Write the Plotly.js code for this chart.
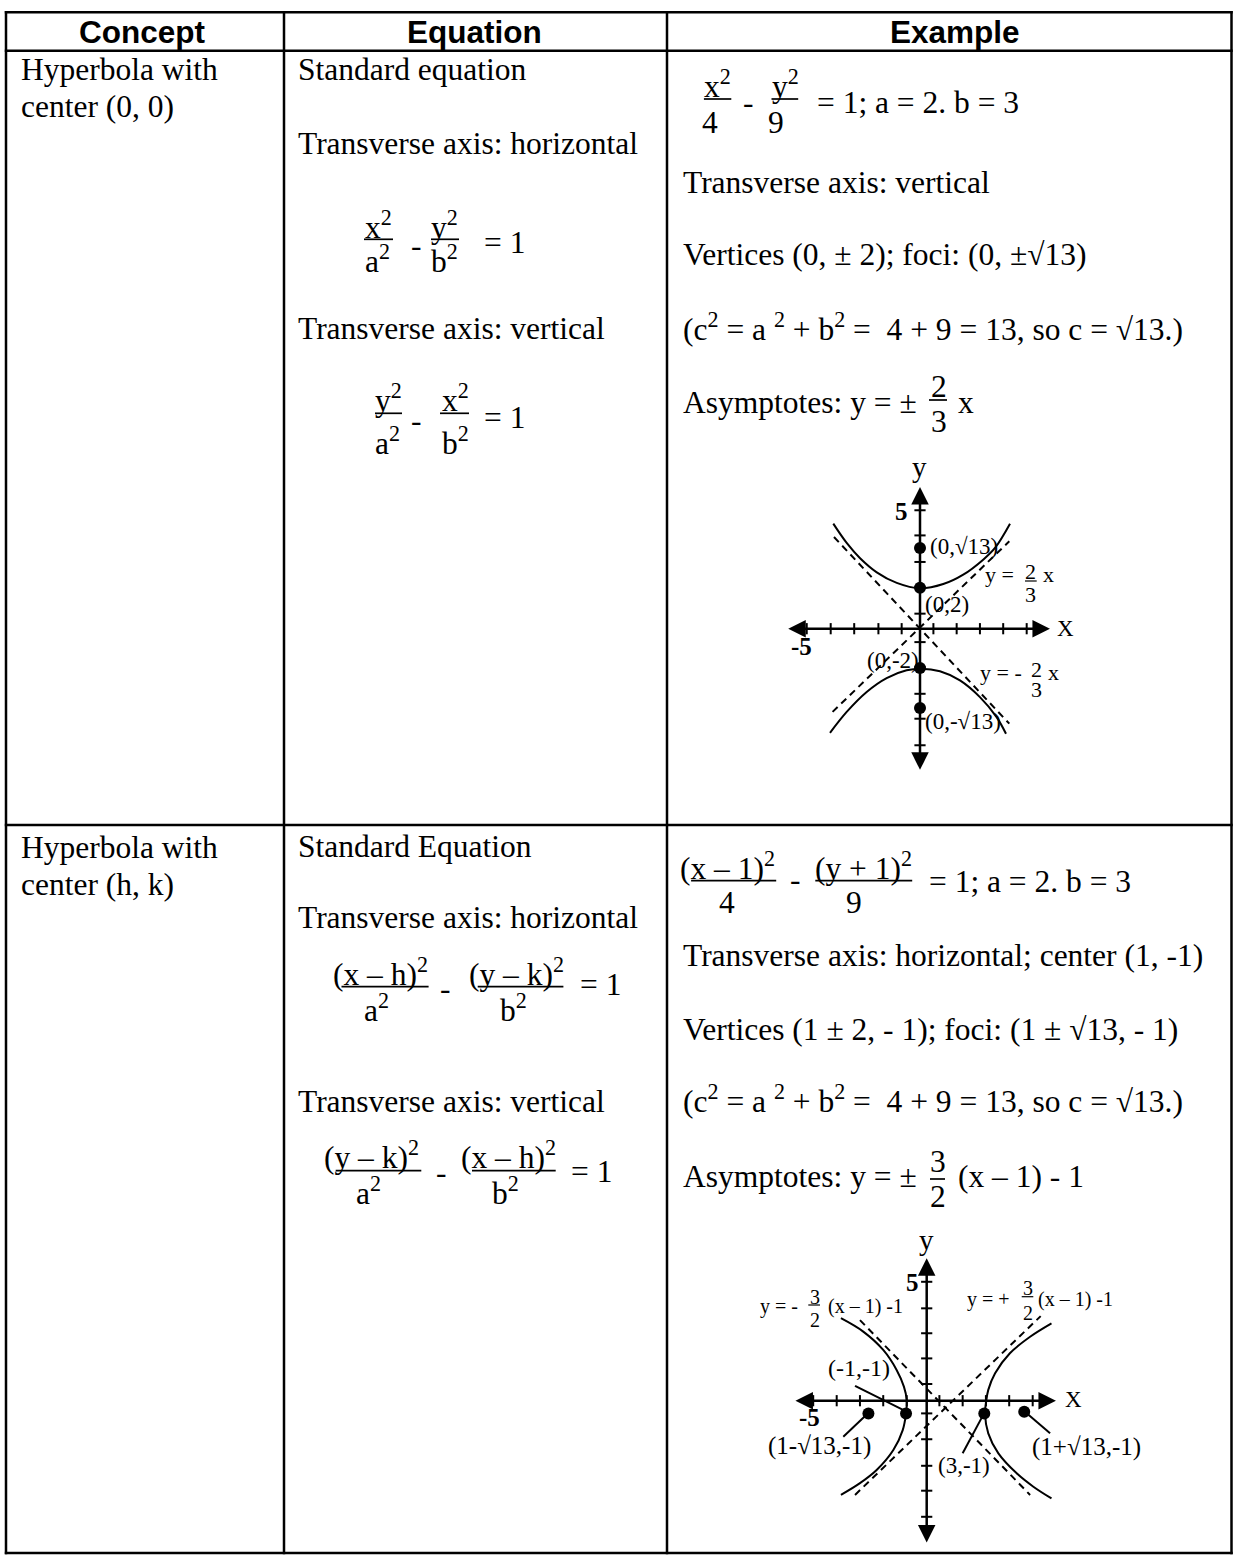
<!DOCTYPE html>
<html>
<head>
<meta charset="utf-8">
<script src="https://cdn.plot.ly/plotly-3.0.1.min.js"></script>
<style>
  html, body { margin: 0; padding: 0; background: #fff; }
  #chart { width: 1233px; height: 1556px; }
</style>
</head>
<body>
<div id="chart"></div>
<script>
// ============ DATA (in graph units) ============
// graph 1: hyperbola with center (0, 0)
const G1_UPPER_X = [-3.69, -3.12, -2.55, -1.84, -0.99, 0, 0.99, 1.84, 2.70, 3.20, 3.83];
const G1_UPPER_Y = [4.47, 3.65, 3.00, 2.40, 1.95, 1.72, 1.90, 2.30, 2.95, 3.45, 4.47];
const G1_LOWER_X = [-3.83, -3.12, -2.27, -1.42, -0.57, 0.04, 0.85, 1.70, 2.55, 3.26, 3.66];
const G1_LOWER_Y = [-4.43, -3.54, -2.69, -2.10, -1.77, -1.70, -1.81, -2.20, -2.91, -3.76, -4.47];
const G1_ASYM_A_X = [-3.66, 3.80], G1_ASYM_A_Y = [3.90, -4.04];
const G1_ASYM_B_X = [-3.72, 3.80], G1_ASYM_B_Y = [-3.54, 3.72];
const G1_DOT_X = [0, 0, 0, 0];
const G1_DOT_Y = [3.43, 1.74, -1.67, -3.37];
const G1_XTICKS = [-4.82, -3.80, -2.80, -1.77, -0.78, 0.57, 1.56, 2.55, 3.54, 4.54];
const G1_YTICKS = [5.04, 3.97, 2.84, 1.77, 0.64, -0.57, -1.63, -2.77, -3.83, -4.96];
const G1_AXIS_X = [-5.67, 5.53];
const G1_AXIS_Y = [-6.07, 6.03];

// graph 2: hyperbola with center (h, k)
const G2_LEFT_X = [-3.65, -2.70, -1.85, -1.28, -0.97, -0.85, -0.88, -1.02, -1.42, -2.13, -2.84, -3.65];
const G2_LEFT_Y = [3.51, 2.94, 2.16, 1.31, 0.60, 0.03, -0.54, -1.25, -2.10, -2.95, -3.51, -4.01];
const G2_RIGHT_X = [5.31, 4.40, 3.54, 2.91, 2.62, 2.52, 2.48, 2.62, 3.05, 3.83, 4.54, 5.31];
const G2_RIGHT_Y = [3.29, 2.72, 2.02, 1.17, 0.46, -0.11, -0.54, -1.39, -2.24, -3.09, -3.66, -4.16];
const G2_ASYM_A_X = [-2.84, 4.40], G2_ASYM_A_Y = [3.43, -4.01];
const G2_ASYM_B_X = [-3.05, 4.85], G2_ASYM_B_Y = [-4.01, 3.60];
const G2_DOT_X = [-2.48, -0.88, 2.45, 4.15];
const G2_DOT_Y = [-0.54, -0.54, -0.54, -0.47];
const G2_LEAD_X = [-3.05, -0.92, null, -3.55, -2.53, null, 1.53, 2.44, null, 4.18, 5.25];
const G2_LEAD_Y = [0.63, -0.43, null, -1.53, -0.57, null, -2.24, -0.54, null, -0.47, -1.39];
const G2_XTICKS = [-4.83, -3.83, -2.84, -1.85, -0.85, 0.54, 1.53, 2.52, 3.51, 4.51];
const G2_YTICKS = [5.06, 3.93, 2.87, 1.80, 0.71, -0.54, -1.64, -2.77, -3.83, -4.94];
const G2_AXIS_X = [-5.65, 5.50];
const G2_AXIS_Y = [-6.10, 6.06];

const HEADERS = ['Concept', 'Equation', 'Example'];
const CONCEPT_1 = ['Hyperbola with', 'center (0, 0)'];
const CONCEPT_2 = ['Hyperbola with', 'center (h, k)'];

// ============ PAGE GEOMETRY ============
const W = 1233, H = 1556;
const UNIT = 23.5;               // px per graph unit
const SERIF = '"Liberation Serif", "Times New Roman", serif';
const SANS = '"Liberation Sans", Arial, sans-serif';
const BODY = 31.5;

const ann = [];
const shapes = [];

// text placed by its baseline (px from the top-left of the page)
function put(text, x, base, size, o){
  o = o || {};
  const k = (o.sans ? 0.3465 : 0.3375) + (text.indexOf('<sup>') >= 0 ? 0.08 : 0);
  ann.push({
    xref: 'paper', yref: 'paper', x: x / W, y: 1 - (base - k * size) / H,
    xanchor: o.anchor || 'left', yanchor: 'middle',
    text: text, showarrow: false, borderpad: 0, borderwidth: 0,
    font: { family: o.sans ? SANS : SERIF, size: size, color: '#000' }
  });
}
function rule(x0, y0, x1, y1, w){
  shapes.push({ type: 'line', xref: 'paper', yref: 'paper',
    x0: x0 / W, x1: x1 / W, y0: 1 - y0 / H, y1: 1 - y1 / H,
    line: { color: '#000', width: w } });
}

// ============ TABLE ============
const COLS = [6, 284, 667, 1231.5];
const ROWS = [12.3, 50.7, 825, 1553];
ROWS.forEach(y => rule(COLS[0] - 1.2, y, COLS[3] + 1.2, y, 2.5));
COLS.forEach(x => rule(x, ROWS[0] - 1.2, x, ROWS[3] + 1.2, 2.5));

put('<b>' + HEADERS[0] + '</b>', 142.5, 43.3, BODY, {sans: true, anchor: 'center'});
put('<b>' + HEADERS[1] + '</b>', 474.8, 43.3, BODY, {sans: true, anchor: 'center'});
put('<b>' + HEADERS[2] + '</b>', 955, 43.3, BODY, {sans: true, anchor: 'center'});

put(CONCEPT_1[0], 20.7, 80, BODY);
put(CONCEPT_1[1], 20.7, 117.3, BODY);
put(CONCEPT_2[0], 20.7, 858, BODY);
put(CONCEPT_2[1], 20.7, 895, BODY);

// equation column, row 1
put('Standard equation', 297.7, 80, BODY);
put('Transverse axis: horizontal', 297.7, 154, BODY);
put('x<sup>2</sup>', 365, 238, BODY);
rule(364, 239.3, 393, 239.3, 1.7);
put('a<sup>2</sup>', 365, 272.5, BODY);
put('-', 411, 256, BODY);
put('y<sup>2</sup>', 431, 238, BODY);
rule(431, 239.3, 459, 239.3, 1.7);
put('b<sup>2</sup>', 431, 272.5, BODY);
put('= 1', 484, 253.3, BODY);
put('Transverse axis: vertical', 297.7, 339.3, BODY);
put('y<sup>2</sup>', 375, 411, BODY);
rule(375, 413.3, 402, 413.3, 1.7);
put('a<sup>2</sup>', 375, 454, BODY);
put('-', 411, 431, BODY);
put('x<sup>2</sup>', 442, 411, BODY);
rule(440, 413.3, 469, 413.3, 1.7);
put('b<sup>2</sup>', 442, 454, BODY);
put('= 1', 484, 428, BODY);

// equation column, row 2
put('Standard Equation', 298, 856.7, BODY);
put('Transverse axis: horizontal', 298, 928.3, BODY);
put('(x – h)<sup>2</sup>', 332.6, 985, BODY);
rule(341.5, 986.7, 428.6, 986.7, 1.7);
put('a<sup>2</sup>', 363.8, 1021, BODY);
put('-', 440, 999.6, BODY);
put('(y – k)<sup>2</sup>', 468.8, 985, BODY);
rule(477.7, 986.7, 563.4, 986.7, 1.7);
put('b<sup>2</sup>', 500, 1021, BODY);
put('= 1', 580, 995, BODY);
put('Transverse axis: vertical', 298, 1111.7, BODY);
put('(y – k)<sup>2</sup>', 324, 1168, BODY);
rule(335.7, 1170.7, 421.3, 1170.7, 1.7);
put('a<sup>2</sup>', 355.7, 1204, BODY);
put('-', 436, 1183, BODY);
put('(x – h)<sup>2</sup>', 460.7, 1168, BODY);
rule(472, 1170.7, 555.7, 1170.7, 1.7);
put('b<sup>2</sup>', 492.3, 1204, BODY);
put('= 1', 570.7, 1181.7, BODY);

// example column, row 1
put('x<sup>2</sup>', 703.9, 97, BODY);
rule(703.9, 99, 731.3, 99, 1.7);
put('4', 702, 133, BODY);
put('-', 742.5, 113, BODY);
put('y<sup>2</sup>', 771.5, 97, BODY);
rule(771.5, 99, 798.2, 99, 1.7);
put('9', 767.8, 133, BODY);
put('= 1; a = 2. b = 3', 817.2, 113, BODY);
put('Transverse axis: vertical', 682.7, 192.7, BODY);
put('Vertices (0, ± 2); foci: (0, ±√13)', 682.7, 265, BODY);
put('(c<sup>2</sup> = a <sup>2</sup> + b<sup>2</sup> =  4 + 9 = 13, so c = √13.)', 682.7, 340, BODY);
put('Asymptotes: y = ±', 682.7, 413.3, BODY);
put('2', 931, 396.7, BODY);
rule(929, 400, 947, 400, 1.7);
put('3', 931, 431.7, BODY);
put('x', 957.9, 413.3, BODY);

// example column, row 2
put('(x – 1)<sup>2</sup>', 680.1, 879, BODY);
rule(691.1, 880.7, 776.2, 880.7, 1.7);
put('4', 718.5, 913, BODY);
put('-', 790, 890.6, BODY);
put('(y + 1)<sup>2</sup>', 815.3, 879, BODY);
rule(815.3, 880.7, 912.2, 880.7, 1.7);
put('9', 846.4, 913, BODY);
put('= 1; a = 2. b = 3', 928.6, 891.7, BODY);
put('Transverse axis: horizontal; center (1, -1)', 682.7, 965.7, BODY);
put('Vertices (1 ± 2, - 1); foci: (1 ± √13, - 1)', 682.7, 1040, BODY);
put('(c<sup>2</sup> = a <sup>2</sup> + b<sup>2</sup> =  4 + 9 = 13, so c = √13.)', 682.7, 1111.7, BODY);
put('Asymptotes: y = ±', 682.7, 1186.7, BODY);
put('3', 930, 1171.7, BODY);
rule(930, 1179, 945, 1179, 1.7);
put('2', 930, 1206.7, BODY);
put('(x – 1) - 1', 958.3, 1186.7, BODY);

// ============ GRAPH LABELS ============
put('y', 919.3, 477, 29, {anchor: 'center'});
put('<b>5</b>', 901.3, 519.5, 25, {anchor: 'center'});
put('<b>-5</b>', 801.7, 654.5, 25, {anchor: 'center'});
put('X', 1065, 636, 23, {anchor: 'center'});
put('(0,√13)', 930, 554, 23);
put('y =', 985, 582.3, 22);
put('2', 1030.7, 579, 22, {anchor: 'center'});
rule(1025, 581, 1036.7, 581, 1.2);
put('3', 1030.7, 602, 22, {anchor: 'center'});
put('x', 1043, 582.3, 22);
put('(0,2)', 925, 612, 23);
put('(0,-2)', 866.7, 668, 23);
put('y = -', 980, 680.3, 22);
put('2', 1036, 677, 22, {anchor: 'center'});
put('3', 1036, 697, 22, {anchor: 'center'});
put('x', 1048, 680.3, 22);
put('(0,-√13)', 925, 729, 23);

put('y', 926.7, 1250, 29, {anchor: 'center'});
put('<b>5</b>', 912.5, 1290.5, 25, {anchor: 'center'});
put('<b>-5</b>', 809, 1426, 25, {anchor: 'center'});
put('X', 1073.3, 1407.5, 23, {anchor: 'center'});
put('y = -', 760, 1313.3, 20);
put('3', 815, 1303.3, 20, {anchor: 'center'});
rule(808.3, 1305, 820, 1305, 1.2);
put('2', 815, 1326.7, 20, {anchor: 'center'});
put('(x – 1) -1', 828.3, 1313.3, 20);
put('y = +', 966.7, 1306.7, 20);
put('3', 1028, 1295, 20, {anchor: 'center'});
rule(1021.7, 1296.7, 1033.3, 1296.7, 1.2);
put('2', 1028, 1320, 20, {anchor: 'center'});
put('(x – 1) -1', 1038.3, 1306.7, 20);
put('(-1,-1)', 828.3, 1376, 24);
put('(1-√13,-1)', 768.3, 1454, 25);
put('(3,-1)', 938.3, 1473, 23);
put('(1+√13,-1)', 1031.7, 1455.8, 25);

// ============ GRAPHS ============
const XR = [-6, 6], YR = [-6.5, 6.5];
function domains(ox, oy){
  return {
    x: [(ox + XR[0] * UNIT) / W, (ox + XR[1] * UNIT) / W],
    y: [1 - (oy - YR[0] * UNIT) / H, 1 - (oy - YR[1] * UNIT) / H]
  };
}
const D1 = domains(920, 628.7);
const D2 = domains(926.7, 1400.7);

function axisArrows(ax, ay, xa, ya){
  const base = { xref: xa, yref: ya, axref: xa, ayref: ya, text: '', showarrow: true,
    arrowside: 'end+start', arrowhead: 2, startarrowhead: 2,
    arrowsize: 1.4, startarrowsize: 1.4, arrowwidth: 2.5, arrowcolor: '#000', standoff: 0, startstandoff: 0 };
  ann.push(Object.assign({}, base, { x: ax[1], y: 0, ax: ax[0], ay: 0 }));
  ann.push(Object.assign({}, base, { x: 0, y: ay[1], ax: 0, ay: ay[0] }));
}
axisArrows(G1_AXIS_X, G1_AXIS_Y, 'x', 'y');
axisArrows(G2_AXIS_X, G2_AXIS_Y, 'x2', 'y2');

const CURVE = { color: '#000', width: 2, shape: 'spline' };
const DASH = { color: '#000', width: 2, dash: '7px,5px' };
function line(x, y, style, xa, ya){
  return { x: x, y: y, xaxis: xa, yaxis: ya, type: 'scatter', mode: 'lines', line: style, hoverinfo: 'skip' };
}
function ticks(x, y, sym, xa, ya){
  return { x: x, y: y, xaxis: xa, yaxis: ya, type: 'scatter', mode: 'markers', hoverinfo: 'skip', cliponaxis: false,
    marker: { symbol: sym, size: 8, color: '#000', line: { color: '#000', width: 2 } } };
}
function dots(x, y, xa, ya){
  return { x: x, y: y, xaxis: xa, yaxis: ya, type: 'scatter', mode: 'markers', hoverinfo: 'skip', cliponaxis: false,
    marker: { symbol: 'circle', size: 12, color: '#000' } };
}

const traces = [
  line(G1_UPPER_X, G1_UPPER_Y, CURVE, 'x', 'y'),
  line(G1_LOWER_X, G1_LOWER_Y, CURVE, 'x', 'y'),
  line(G1_ASYM_A_X, G1_ASYM_A_Y, DASH, 'x', 'y'),
  line(G1_ASYM_B_X, G1_ASYM_B_Y, DASH, 'x', 'y'),
  ticks(G1_XTICKS, G1_XTICKS.map(() => 0), 'line-ns-open', 'x', 'y'),
  ticks(G1_YTICKS.map(() => 0), G1_YTICKS, 'line-ew-open', 'x', 'y'),
  dots(G1_DOT_X, G1_DOT_Y, 'x', 'y'),

  line(G2_LEFT_X, G2_LEFT_Y, CURVE, 'x2', 'y2'),
  line(G2_RIGHT_X, G2_RIGHT_Y, CURVE, 'x2', 'y2'),
  line(G2_ASYM_A_X, G2_ASYM_A_Y, DASH, 'x2', 'y2'),
  line(G2_ASYM_B_X, G2_ASYM_B_Y, DASH, 'x2', 'y2'),
  line(G2_LEAD_X, G2_LEAD_Y, { color: '#000', width: 2 }, 'x2', 'y2'),
  ticks(G2_XTICKS, G2_XTICKS.map(() => 0), 'line-ns-open', 'x2', 'y2'),
  ticks(G2_YTICKS.map(() => 0), G2_YTICKS, 'line-ew-open', 'x2', 'y2'),
  dots(G2_DOT_X, G2_DOT_Y, 'x2', 'y2')
];

const HIDDEN = { visible: false, fixedrange: true, showgrid: false, zeroline: false };
const layout = {
  width: W, height: H, autosize: false,
  margin: { l: 0, r: 0, t: 0, b: 0 },
  paper_bgcolor: '#fff', plot_bgcolor: 'rgba(0,0,0,0)',
  showlegend: false,
  xaxis: Object.assign({ domain: D1.x, range: XR, anchor: 'y' }, HIDDEN),
  yaxis: Object.assign({ domain: D1.y, range: YR, anchor: 'x' }, HIDDEN),
  xaxis2: Object.assign({ domain: D2.x, range: XR, anchor: 'y2' }, HIDDEN),
  yaxis2: Object.assign({ domain: D2.y, range: YR, anchor: 'x2' }, HIDDEN),
  shapes: shapes,
  annotations: ann
};

Plotly.newPlot('chart', traces, layout, { staticPlot: true, displayModeBar: false });
</script>
</body>
</html>
